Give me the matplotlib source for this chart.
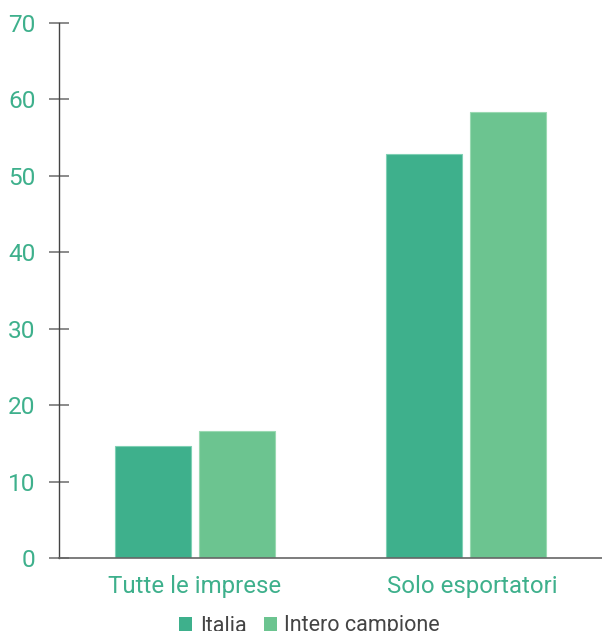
import numpy as np
import matplotlib
matplotlib.use('Agg')
import matplotlib.pyplot as plt
from matplotlib.transforms import ScaledTranslation

plt.rcParams['font.family'] = ['Roboto', 'DejaVu Sans']

# dati
categorie = ['Tutte le imprese', 'Solo esportatori']
italia = [14.65, 52.9]
intero_campione = [16.6, 58.3]
serie = ['Italia', 'Intero campione']

verde_scuro = '#3eb08c'
verde_chiaro = '#6cc490'

fig = plt.figure(figsize=(6.02, 6.31), dpi=100)
ax = fig.add_axes([59 / 602, 1 - 558 / 631, 1 - 59 / 602, (558 - 23) / 631])

x = np.arange(len(categorie))
larghezza = 0.28
ax.bar(x - 0.155, italia, larghezza, color=verde_scuro, edgecolor='#7fd0b4',
       linewidth=0.8, label=serie[0], zorder=2)
ax.bar(x + 0.155, intero_campione, larghezza, color=verde_chiaro, edgecolor='#9ad9b2',
       linewidth=0.8, label=serie[1], zorder=2)

ax.set_xlim(-0.5, 1.5)
ax.set_ylim(0, 70)
ax.set_yticks(range(0, 71, 10))
ax.set_xticks(x)
ax.set_xticklabels(categorie)

for s in ['top', 'right']:
    ax.spines[s].set_visible(False)
ax.spines['left'].set_color('#444444')
ax.spines['bottom'].set_color('#666666')
ax.spines['left'].set_linewidth(1.0)
ax.spines['bottom'].set_linewidth(1.2)

ax.tick_params(axis='y', direction='inout', length=14, width=1.2, color='#777777',
               labelcolor=verde_scuro, labelsize=17.6, pad=10)
ax.tick_params(axis='x', length=0, labelcolor=verde_scuro, labelsize=17.3, pad=12)

# seconda etichetta leggermente spostata a destra come nell'originale
lbl = ax.get_xticklabels()[1]
lbl.set_transform(lbl.get_transform() + ScaledTranslation(0.06, 0, fig.dpi_scale_trans))

leg = fig.legend(loc='center', bbox_to_anchor=(0.514, 1 - 626 / 631), ncol=2,
                 frameon=False, fontsize=15.5, handlelength=0.6, handleheight=0.6,
                 handletextpad=0.35, columnspacing=0.8, labelcolor='#444444')
for h in leg.legend_handles:
    h.set_edgecolor('none')

fig.savefig('out.png', dpi=100)
